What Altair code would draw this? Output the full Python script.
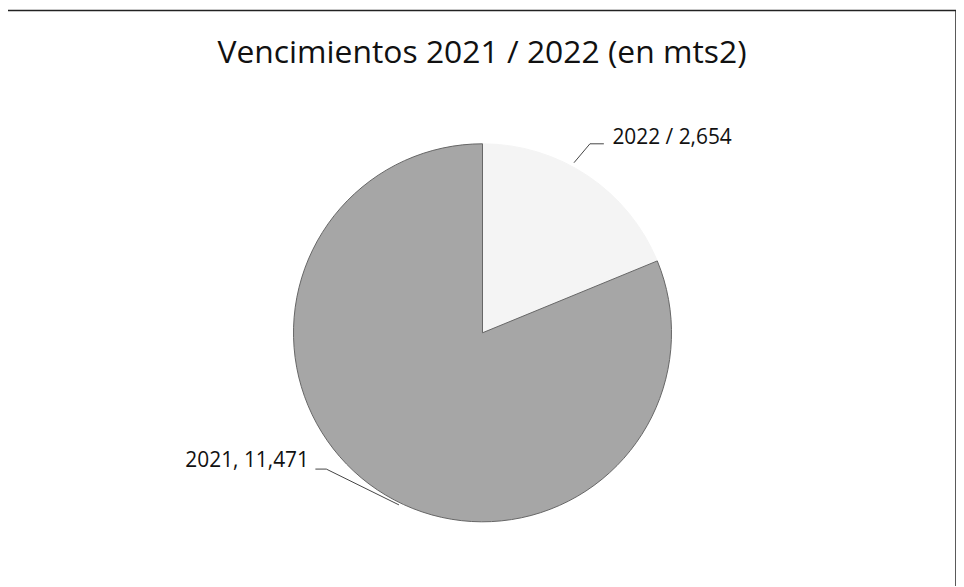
import altair as alt
import pandas as pd

categories = ["2022", "2021"]
values = [2654, 11471]
labels = ["2022 / 2,654", "2021, 11,471"]
order = [1, 2]

df = pd.DataFrame({"cat": categories, "value": values, "label": labels, "ord": order})

W, H = 953, 578
CX, CY = 477, 325
R = 190

base = alt.Chart(df).encode(
    theta=alt.Theta("value:Q", stack=True),
    order=alt.Order("ord:Q"),
)

pie = base.mark_arc(radius=R, strokeWidth=1).encode(
    x=alt.value(CX), y=alt.value(CY),
    color=alt.Color("cat:N", scale=alt.Scale(domain=["2022", "2021"], range=["#f4f4f4", "#a6a6a6"]), legend=None),
    stroke=alt.condition(alt.datum.cat == "2021", alt.value("#666666"), alt.value("#f4f4f4")),
)

def lbl(cat, dx, dy):
    return base.mark_text(radius=240, dx=dx, dy=dy, font="Open Sans", fontSize=21, color="#111111").encode(
        x=alt.value(CX), y=alt.value(CY),
        text="label:N",
        opacity=alt.condition(alt.datum.cat == cat, alt.value(1), alt.value(0)),
    )

t22 = lbl("2022", 57, 4)
t21 = lbl("2021", -103, -70)

def seg(i, x1, y1, x2, y2):
    return alt.Chart(df.iloc[[i]]).mark_rule(color="#444444", strokeWidth=1).encode(
        x=alt.value(x1), y=alt.value(y1), x2=alt.value(x2), y2=alt.value(y2))

l1 = seg(0, 569, 154, 585, 135)
l1b = seg(0, 585, 135, 599, 135)
l2 = seg(1, 309, 462, 320, 462)
l2b = seg(1, 320, 462, 393, 498)

frame = alt.Chart(df.iloc[[0]])
bl = frame.mark_rule(color="#222222", strokeWidth=1.5).encode(x=alt.value(-2), y=alt.value(1), y2=alt.value(H + 10))
bt = frame.mark_rule(color="#222222", strokeWidth=1.5).encode(x=alt.value(-2), x2=alt.value(W), y=alt.value(1))
br = frame.mark_rule(color="#222222", strokeWidth=1.5).encode(x=alt.value(W), y=alt.value(1), y2=alt.value(H + 10))

chart = alt.layer(pie, t22, t21, l1, l1b, l2, l2b, bl, bt, br).properties(
    width=W, height=H,
    title=alt.TitleParams("Vencimientos 2021 / 2022 (en mts2)", font="Open Sans", fontSize=32,
                          fontWeight="normal", color="#111111", anchor="middle", offset=-61),
    autosize=alt.AutoSizeParams(type="none"),
    padding=0,
).configure_view(stroke=None)

chart.save("out.html", embed_options={"renderer": "svg", "actions": False})
